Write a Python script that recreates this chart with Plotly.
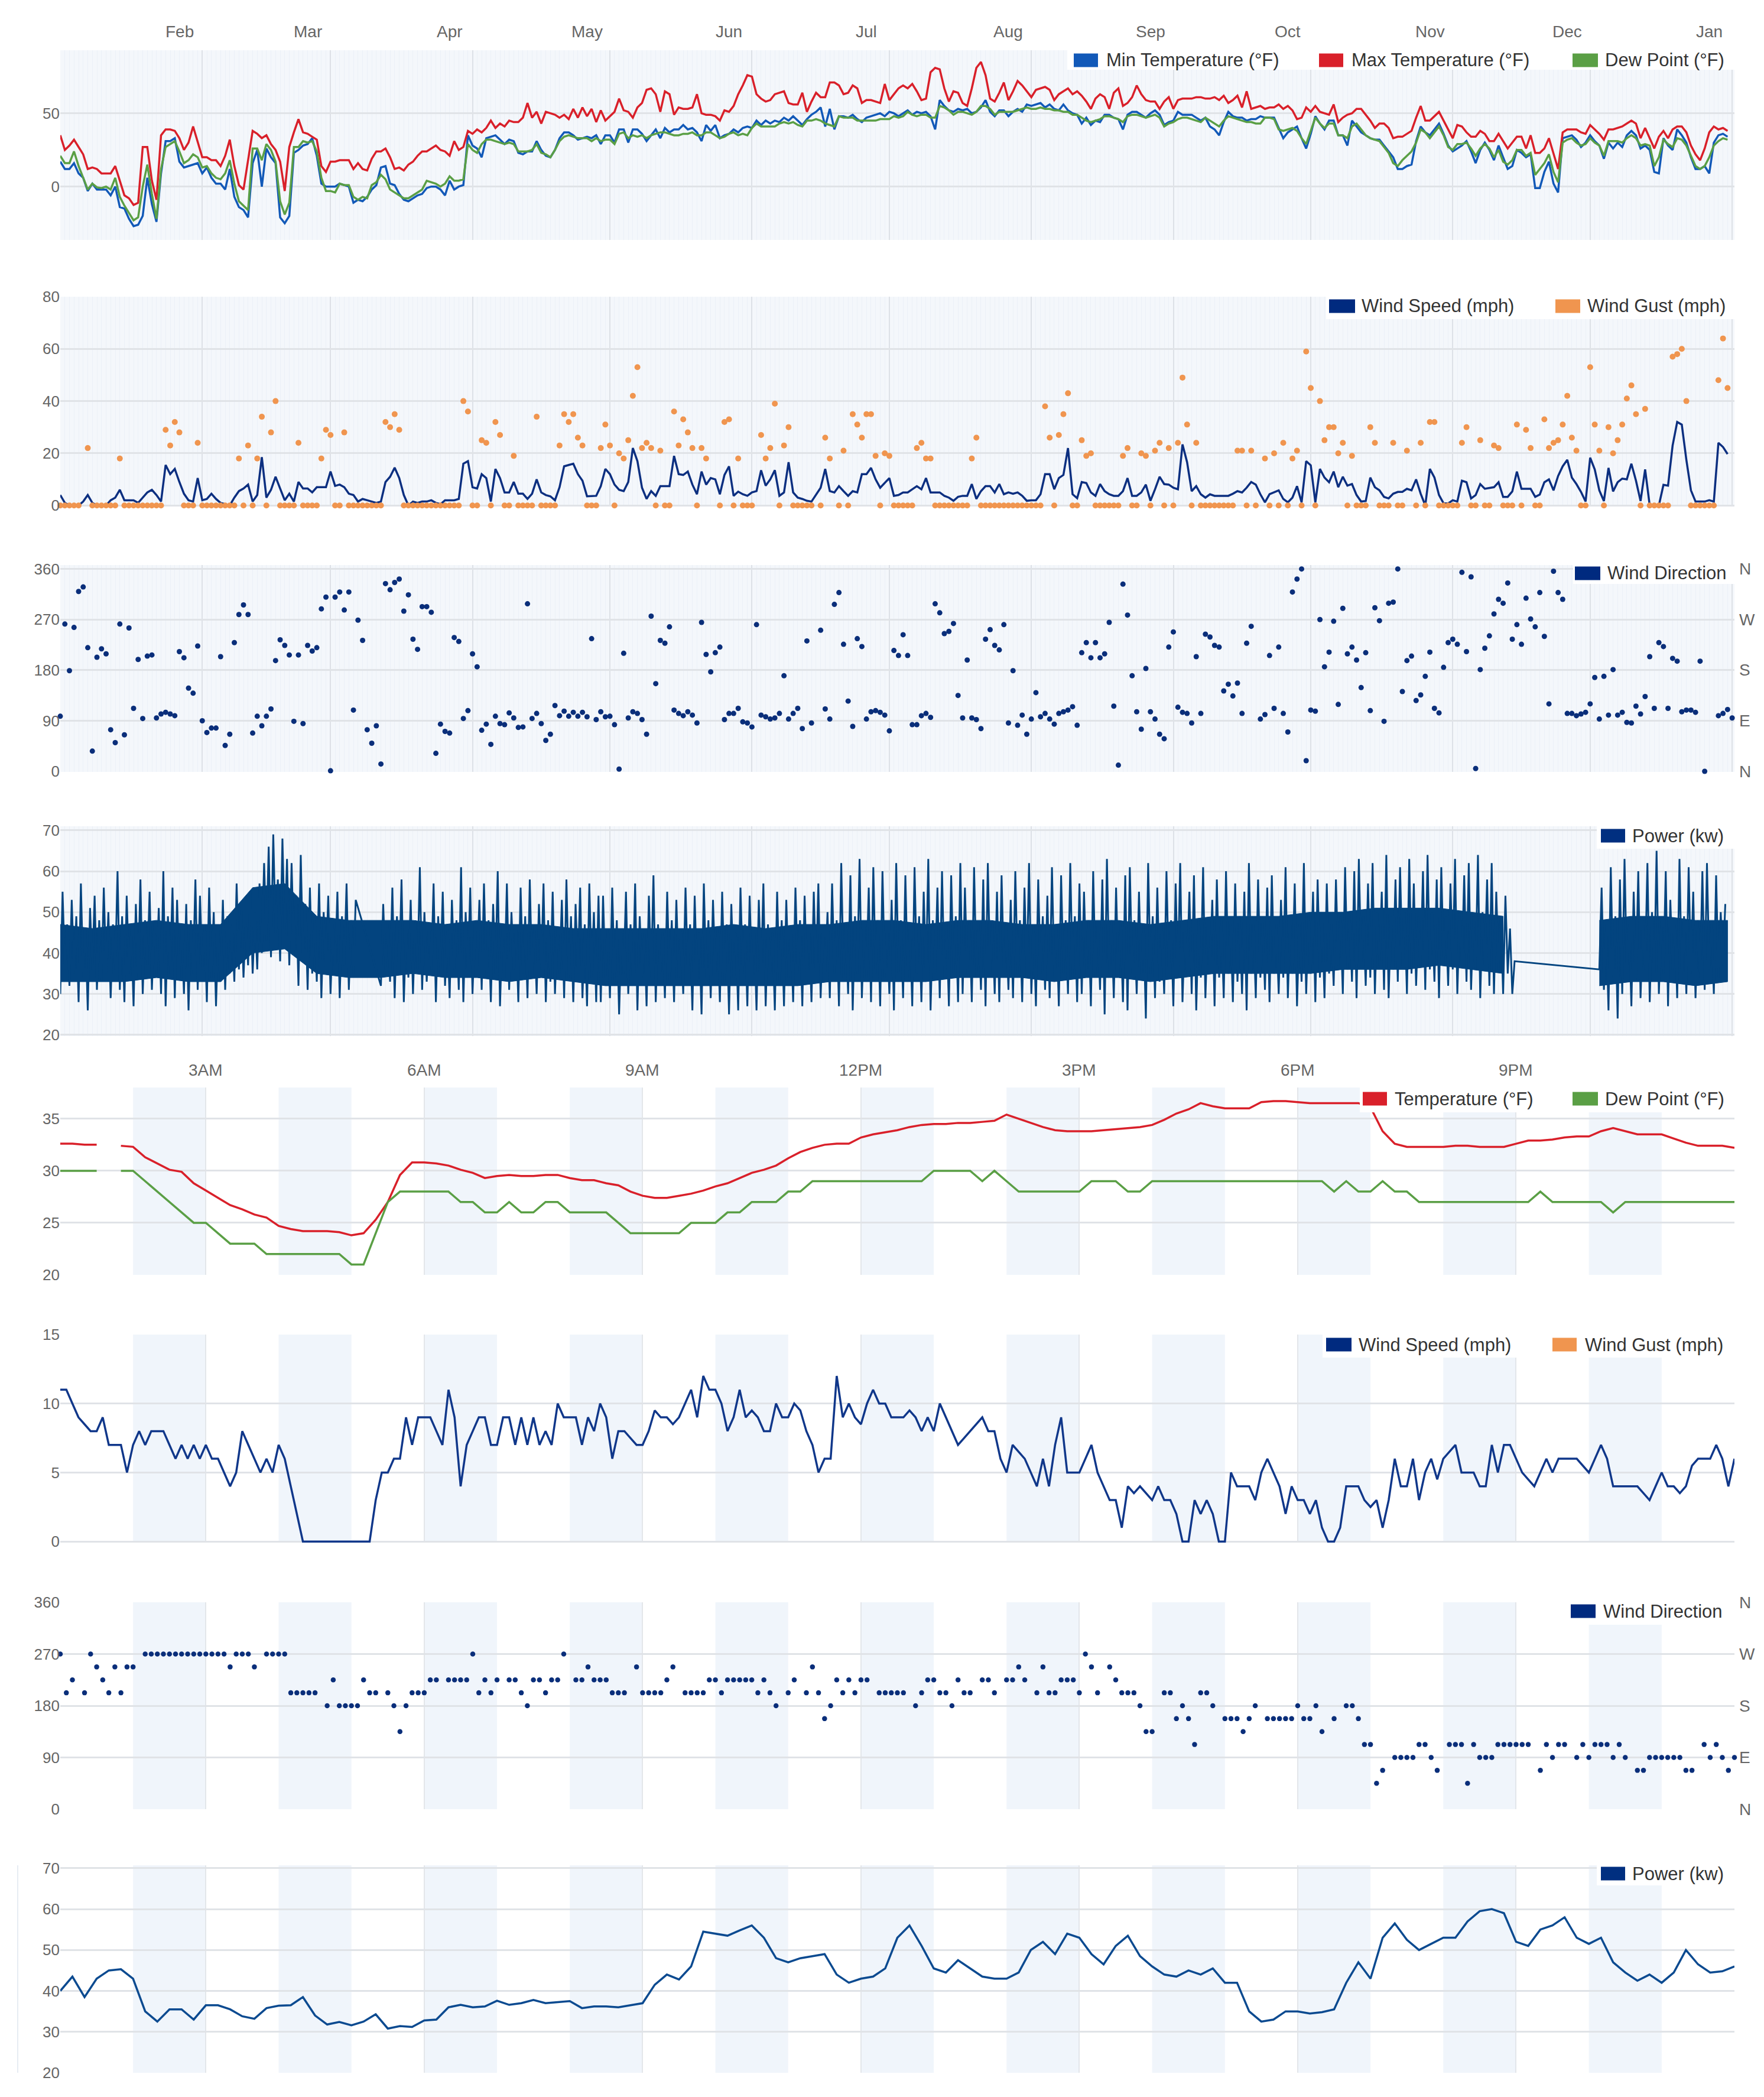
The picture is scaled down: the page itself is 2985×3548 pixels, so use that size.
import pandas as pd
import plotly.graph_objects as go

W, H = 2985, 3548
OFF = 8            # page offset of the figure inside the browser page
L, R = 102, 2935
FONT = "Liberation Sans, Arial, Helvetica, sans-serif"
TICK_COLOR = "#666666"

C_MIN = "#1259b8"
C_MAX = "#d9202a"
C_DEW = "#5a9f45"
C_WS = "#0c2f80"
C_GUST = "#f0954f"
C_DIR = "#0a2e7a"
C_PWR = "#03447f"
C_DWS = "#10378a"
C_DPWR = "#0b4a90"

# ------------------------------------------------------------------
# Year panels: daily values starting Jan 1
# ------------------------------------------------------------------
max_temp_a = [35,25,28,32,27,22,12,13,12,9,
              9,9,14,4,-6,-8,-12.5,-11,27,27,
              4,-9,35,39,39,38,33,25,30,41,
              30,20,20,18,18,14,21,32,14,1,
              -2,17,38,36,33,35,29,25,17,-3,
              27,37,46,37,36,34,32,14,10,17,
              17,18,18,18,12,16,12,11,19,24,24,
              26,20,12,13,11,15,17,21,24,24,26,
              28,25,24,21,31,25,27,38,36,39,
              37,40,45,40,43,41,45,44,44,47,
              57,47,51,43,51,50,49,47,49,46,
              53,47,54,48]
max_temp_b = [53,44,52,45,48,51,60,52,51,47,
              54,57,66,67,63,51,65,63,49,54,
              53,53,54,63,50,49,49,48,45,52,
              51,55,63,69,76,75,63,60,58,59,
              63,64,65,57,56,56,64,51,58,64,
              61,61,71,71,69,63,64,69,67,57,
              59,59,58,57,70,59,63,67,69,67,
              70,65,59,60,78,81,80,67,58,65,
              64,57,55,67,81,85,76,60,58,64,
              71,59,65,72,69,65,61,66,67,68,
              66,59,63,65,67,63,65,62,58,53,
              60,63,61,53,64,67,55,57,61,69,
              63,59,58,58,53,58,61,53,59,60,
              60,60,61,61]
max_temp_c = [60,60,61,59,62,57,59,62,54,65,
              53,54,55,53,54,54,56,53,55,52,
              46,47,54,51,55,51,50,49,56,44,
              47,49,50,53,53,49,45,40,43,43,
              40,33,34,34,36,38,47,55,45,45,
              48,51,45,39,33,42,41,37,34,34,
              38,36,31,31,36,31,26,30,34,34,
              26,35,23,23,26,33,23,12,37,39,
              39,39,37,36,42,39,36,32,39,39,
              40,41,43,45,43,33,40,33,26,34,
              38,33,39,41,41,37,28,22,18,26,
              37,41,39,40,38]

min_temp_a = [17,12,12,16,9,6,-3,2,-2,-2,
              -2,-6,0,-14,-15,-22,-27,-26,-20,6,
              -12,-24,9,31,31,33,17,13,14,15,
              16,9,13,6,2,2,-2,12,-7,-14,
              -16,-21,16,25,0,26,20,16,-21,-25,
              -20,23,25,28,29,33,21,2,0,0,
              0,2,1,0,-11,-9,-10,-7,-2,1,13,
              14,2,1,-5,-9,-10,-8,-6,-5,-1,0,
              0,-2,-6,4,-2,0,1,35,28,26,
              20,33,34,35,32,29,32,31,23,22,
              24,24,31,25,21,20,25,33,37,37,
              35,32,33,34]
min_temp_b = [33,35,29,35,35,30,39,39,30,39,
              39,36,31,35,39,33,40,37,39,39,
              42,39,40,37,31,42,38,42,33,35,
              36,39,37,40,41,40,45,42,45,43,
              45,44,47,45,48,45,42,46,49,51,
              54,41,53,39,48,48,47,49,46,44,
              47,48,49,50,48,51,50,48,50,52,
              49,51,50,51,48,39,59,55,52,51,
              53,52,53,50,51,54,59,51,48,52,
              52,48,51,53,51,56,55,56,57,54,
              56,53,52,56,52,50,49,43,47,42,
              45,44,49,49,47,46,39,49,51,51,
              49,47,50,52,49,42,44,45,51,49,
              49,49,47,45]
min_temp_c = [47,41,39,35,44,51,48,47,47,45,
              46,46,48,47,47,47,40,33,37,39,
              41,33,26,36,48,43,39,45,45,35,
              35,28,45,41,37,35,33,32,32,28,
              24,20,12,12,14,15,31,41,37,35,
              39,43,36,28,24,26,28,31,24,16,
              25,30,25,18,28,20,12,14,25,23,
              20,22,-1,-1,10,17,2,-4,33,34,
              35,32,27,30,35,31,28,19,30,26,
              30,27,35,38,35,26,28,25,10,9,
              33,28,25,39,35,30,20,12,12,14,
              9,30,35,36,34]

dew_a = [21,16,16,24,14,6,-2,2,-0.5,-1,
         0,-2,6,-7,-13,-18,-23,-21,0,15,
         -5,-22,12,27,29,31,24,16,18,22,
         20,13,14,9,6,5,9,18,2,-10,
         -13,-16,26,26,18,29,25,17,-10,-19,
         -11,27,27,31,30,31,24,6,-3,-3,
         -4,2,1,1,-7,-9,-7,-8,1,3,8,
         5,-2,-4,-6,-8,-8,-6,-4,-2,4,3,
         2,0,2,7,4,4,5,29,25,23,
         29,32,32,31,30,29,30,29,24,24,
         24,25,29,23,22,20,25,31,34,35,
         34,33,33,33]
dew_b = [31,33,31,32,32,29,36,37,33,35,
         34,35,33,35,36,37,37,36,35,35,
         36,36,37,35,35,37,37,35,33,34,
         36,37,35,36,35,40,43,41,41,41,
         41,43,44,43,44,42,41,45,45,46,
         45,43,42,41,48,47,47,47,45,45,
         45,45,45,46,46,46,48,47,48,51,
         49,48,49,49,47,47,55,54,52,49,
         51,51,50,49,51,55,55,53,49,51,
         51,51,51,52,53,54,53,53,54,53,
         53,52,52,51,51,49,49,47,45,44,
         45,46,48,48,47,46,44,48,49,49,
         48,47,48,49,47,41,43,44,46,47,
         47,46,45,44]
dew_c = [47,45,43,41,45,48,47,46,45,44,
         44,43,43,47,47,46,39,38,39,40,
         38,33,29,38,47,43,40,43,43,35,
         35,33,41,43,39,35,33,32,31,27,
         23,16,14,18,21,24,30,39,37,33,
         37,41,35,27,25,29,29,30,26,21,
         26,29,26,20,25,17,15,18,25,25,
         21,23,8,12,16,22,10,3,30,32,
         33,30,28,29,33,30,28,21,31,31,
         31,30,33,35,33,28,29,28,14,20,
         32,29,27,33,32,28,21,14,12,14,
         20,28,31,33,32]

wind_a = [4,1,0,0,0,1.5,4,1,0,0,
          0,2,3,6,2,2,2,1,3,5,
          6,4,1.5,15.5,12,14,9,4.5,2,1.5,
          10.5,2,2.5,4.5,2.5,1,0.5,0,3,5.5,
          6.5,8,1.5,4,18.5,3,6,11,6.5,2,
          4.5,1.5,9,6.5,6.5,5,7,7,7,13,
          7.5,8,7,4.5,4,1.5,2.5,2,1.5,1,
          1.5,9,11,14.5,10.5,4,0,1.5,1,1.5,
          1.5,2,1,0.5,2,2,2,2.5,16,17,
          7,6.5,12,10.5,1.5,14,10.5,5,5,9,
          4.5,4.5,2.5,4.5,10,5,4,3.5,2,7,
          15,15.5,16,12,9.5,3.5]
wind_b = [3.7,3.7,7.4,14,12,8,6,5.5,9,22,
          17,6.8,2.5,5.5,3.7,7.4,7.4,7.4,19,12,
          11.7,13,8,4.3,13,8,10.5,10,4.3,11.7,
          15,3.7,5.3,4.3,3.7,5,5.5,13.5,7.6,10,
          13.5,3.7,5,16.6,5,3,2.5,1.8,1.5,4.3,
          6.8,14,5.5,5,7.4,5.5,3.7,5.5,5,12,
          12,14.4,10,6.8,8.6,10.5,3.7,4,5,5,
          6.2,7.4,6.2,10.5,5,5,5,3.7,3,1.8,
          3.3,3.7,3.7,8.2,2.5,5.5,7.4,7.4,5,8.2,
          4.3,5,4.5,5,3.7,1.8,2,2,4.3,12,
          12,6.2,10.5,11.7,22,4.3,2.8,9,8.6,5,
          3.7,8.2,5.5,4.3,3.7,3.7,5.5,10.5,3.7,3.7,
          5,8,1.8,6.2,11,8.2,8,6.8,6.2,23.4,
          16.6,5.5,7.4,4.3,3,4.3,3.7,3.7,3.7,3.7,
          4.5,5.5,5,6.8,9,8,4.3,1.2,4.3,5,
          5.8,2.5,1.2,3,7.4,1.2,17,15.4,1.2]
wind_c = [14,10.7,8.9,13,7,11,7.6,8.2,4,1.5,
          1.7,10.7,7,5.8,3.3,2.7,4.5,5.2,5.2,6.4,
          5.8,10,4.5,0,14,10.7,4,0.8,0.8,2,
          1.5,9.5,8.9,2.7,4,8.2,6.4,6.6,7,8.9,
          3.3,3.3,5.4,13,6.4,6.4,6.4,3.3,4.2,8.9,
          10,5.8,11.3,15,17.5,10.7,8.2,5.2,1.5,18.3,
          13.8,5.8,1.7,14.4,5.4,8.9,10.3,10,16,9.5,
          1.7,13.8,0,0,0,7.9,7.6,23,32,31,
          17.5,5.8,1.5,1.5,1.5,2,1.5,24,22.4,19.7]

gust_a = [0,0,0,0,0,None,22,0,0,0,
          0,0,0,18,0,0,0,0,0,0,
          0,0,0,29,23,32,28,0,0,0,
          24,0,0,0,0,0,0,0,0,18,
          0,23,0,18,34,0,28,40,0,0,
          0,0,24,0,0,0,0,18,29,27,
          0,0,28,0,0,0,0,0,0,0,
          0,32,30,35,29,0,0,0,0,0,
          0,0,0,0,0,0,0,0,40,36,
          0,0,25,24,0,32,27,0,0,19,
          0,0,0,0,34,0,0,0,0,23,
          35,32,35,26,23,0]
gust_b = [0,0,22,31,23,0,20,18,25,42,
          53,22,24,22,0,21,0,0,36,23,
          33,28,22,0,22,18,None,None,0,32,
          33,0,18,0,0,0,None,27,18,22,
          39,0,23,30,0,0,0,0,0,None,
          0,26,18,None,0,21,0,35,31,26,
          35,35,19,0,20,19,0,0,0,0,
          0,22,24,18,18,0,0,0,0,0,
          0,0,0,18,26,0,0,0,0,0,
          0,0,0,0,0,0,0,0,0,38,
          26,0,27,35,43,0,0,25,19,20,
          0,0,0,0,0,0,19,22,0,0,
          20,19,0,21,24,0,22,0,24,49,
          31,0,24,0,0,0,0,0,0,0,
          0,21,21,0,21,0,None,18,0,20,
          0,24,0,18,21,0,59,45,0]
gust_c = [40,25,30,30,20,24,0,19,0,0,
          0,30,24,0,0,0,24,0,0,21,
          None,0,24,0,32,32,0,0,0,0,
          0,24,30,0,0,25,0,0,23,22,
          0,0,0,31,0,29,22,0,0,33,
          22,24,25,31,42,26,21,0,0,53,
          31,21,0,30,20,25,31,41,46,35,
          0,37,0,0,0,0,0,57,58,60,
          40,0,0,0,0,0,0,48,64,45]

wdir_a = [98,262,179,256,320,328,220,36,203,218,
          209,74,51,262,65,255,112,199,94,205,
          207,95,102,105,102,99,213,202,148,139,
          223,90,69,77,77,204,46,66,229,279,
          296,279,68,98,81,98,111,197,234,224,
          207,89,207,85,224,214,220,289,310,1,
          310,319,287,319,109,269,233,74,50,81,
          13,334,323,336,342,285,314,235,217,293,
          293,283,32,84,71,68,238,231,94,108,
          209,186,73,84,48,98,85,83,104,95,
          78,79,298,94,103,85,55,66,117,99,
          107,98,105,98,105,97]
wdir_b = [236,92,106,97,98,83,4,210,95,106,
          103,92,66,276,156,233,228,257,109,103,
          99,106,100,86,265,208,177,211,221,92,
          103,103,112,88,86,79,261,100,97,93,
          95,103,170,93,103,112,76,232,86,None,251,
          111,93,297,318,226,125,80,236,222,93,
          106,108,105,100,72,215,206,243,206,83,
          83,99,103,96,298,282,245,249,263,135,
          95,198,95,92,76,235,252,224,216,261,
          86,179,82,100,66,93,140,97,103,93,
          84,103,106,109,115,82,211,229,202,229,
          202,209,265,116,11,333,278,170,106,75,
          183,106,93,66,58,221,248,114,105,103,
          86,204,103,244,239,224,221,143,155,134,
          157,103,228,258,None,93,101,206,112,221,103,
          70,319,342,360,19,109,107,270,186]
wdir_c = [212,267,119,290,209,221,198,149,211,108,
          291,268,89,299,301,360,142,197,205,126,
          136,169,212,112,104,185,229,235,226,354,
          213,346,5,181,219,241,280,306,299,335,
          235,261,226,308,271,257,318,240,120,356,
          318,306,103,103,99,102,105,120,167,93,
          169,100,181,100,105,87,86,116,102,133,
          204,112,229,222,112,201,196,106,109,109,
          105,196,0,None,None,99,103,110,95]

# daily power swings (low / high of each day), None = no data
power_lo_a = [30,36,32,35,28,34,26,36,31,33, 35,29,36,31,28,35,27,34,30,36,
              31,35,30,27,35,29,34,30,26,35, 31,36,28,34,27,33,31,35,33,36,
              34,37,35,36,40,43,39,45,38,44, 37,40,32,38,31,35,33,29,36,30,
              35,29,37,31,35]
power_hi_a = [55,47,53,49,57,46,51,54,48,56, 50,47,60,49,54,46,52,58,48,55,
              47,51,60,49,56,53,46,52,48,58, 54,47,56,50,46,53,49,47,57,52,
              48,55,50,57,62,66,69,58,68,63, 62,54,64,52,56,48,57,50,54,47,
              55,49,57,48,53]
power_gap_1 = [None, None, None, None, None]
power_lo_b = [32,36,33,29,35,28,34,30,36,31, 33,36,28,35,32,29,36,31,28,35,
              30,36,31,34,28,35,27,34,31,36, 28,35,29,34,30,36,28,33,30,35,
              29,34,28,35,29,27,34,28,
              28,34,29,33,25,35,30,33,26,34, 27,34,28,35,29,33,28,34,30,35,
              26,33,25,34,29,35,28,33,25,34, 26,35,27,33,26,34,27,35,26,33,
              27,34,28,35,27,33,28,34,29,35,
              29,35,27,34,30,26,35,29,34,28, 35,27,34,30,26,35,29,34,27,35,
              28,34,26,35,29,34,27,35,28,
              30,35,28,34,31,27,35,30,28,35, 31,29,35,28,34,30,27,35,31,29,
              34,27,35,30,34,28,
              30,35,27,34,31,25,35,29,34,28, 26,35,30,34,24,35,29,33,30,35,
              27,34,28,35,30,26,34,29,35,27, 34,29,35,28,33,30,26,35,29,34,
              31,28,35,30,34,29,35,27,33,30, 35,28,34,29,35,
              32,37,30,36,33,29,37,32,34,30, 37,31,29,36,33,37,30,35,32,37,
              31,36,33,29,37,32,36,30,37,33, 31,36,29,37,32,
              30,36,30,35,30]
power_hi_b = [52,47,56,49,58,46,53,48,61,50, 47,57,49,55,46,53,48,61,50,56,
              47,53,57,48,52,60,46,57,50,47, 56,49,58,47,52,57,48,55,46,53,
              58,49,52,56,47,57,50,54,
              54,46,56,48,45,55,47,57,49,46, 54,59,47,45,55,48,53,46,56,47,
              54,45,57,48,53,46,55,47,52,45, 56,47,54,46,53,57,47,45,55,48,
              53,46,56,48,54,46,55,57,47,50,
              57,48,62,47,59,49,63,47,56,61, 48,60,47,53,62,48,59,47,61,49,
              55,63,48,56,60,47,59,49,62,
              56,48,61,47,58,62,48,55,59,47, 53,60,48,56,62,47,58,49,54,61,
              47,59,48,62,49,57,
              55,48,60,47,58,63,48,56,47,59, 61,48,55,47,62,49,56,47,60,48,
              57,62,47,55,59,48,61,47,53,58, 48,60,47,57,49,55,62,47,58,48,
              56,59,47,53,61,48,57,47,62,49, 55,58,48,57,47,
              58,49,61,50,60,63,49,57,62,50, 55,64,49,58,61,50,63,57,49,60,
              64,50,58,61,49,57,63,50,59,62, 49,64,50,58,62,
              55,49,54,46,38]
power_gap_2 = [None, None, None, None, None, None, None, None, None,
               None, None, None, None, None, None, None, None, None]
power_lo_c = [36,31,26,34,24,30,35,27,33,29, 36,28,34,30,35,27,36,29,33,30,
              35,29,34,31,36,30,34,37]
power_hi_c = [56,47,61,49,58,63,47,55,60,48, 62,50,65,48,60,53,47,63,49,61,
              55,48,60,62,47,59,50,52]

# dense core of the power trace, one value per week (None = no data)
power_core_lo = [33,33,33,34,33,33,40,41,35,34,
                 34,35,34,34,33,34,33,32,32,32,
                 32,32,32,32,33,33,33,33,34,34,
                 34,33,34,34,33,34,35,35,35,35,
                 36,36,36,37,36,35,None,None,
                 32,33,33,32,33]
power_core_hi = [47,46,47,48,47,47,56,57,49,48,
                 48,48,47,48,47,47,46,46,46,46,
                 46,47,46,47,47,48,48,47,48,48,
                 47,47,48,48,47,48,49,49,49,50,
                 50,51,51,51,50,49,None,None,
                 48,49,49,48,48]

# ------------------------------------------------------------------
# Day panels (from 1:00)
# ------------------------------------------------------------------
day_temp = [32.6,32.6,32.5,32.5,None,32.4,
            32.3,31.3,30.7,30.1,29.9,28.8,
            28.1,27.4,26.7,26.3,25.8,25.5,
            24.7,24.4,24.2,24.2,24.2,24.1,
            23.8,24.0,25.3,27.0,29.6,30.8,
            30.8,30.7,30.5,30.1,29.8,29.3,
            29.5,29.6,29.5,29.5,29.6,29.6,
            29.3,29.1,29.1,
            28.8,28.6,28.0,
            27.6,27.4,27.4,27.6,27.8,28.1,
            28.5,28.8,29.3,29.8,30.1,30.5,
            31.2,31.8,32.2,32.5,32.6,32.6,
            33.2,33.5,33.7,33.9,34.2,34.4,
            34.5,34.5,34.6,34.6,34.7,34.8,
            35.4,35.0,34.6,34.2,33.9,33.8,
            33.8,33.8,33.9,34.0,34.1,34.2,
            34.4,34.9,35.5,35.9,36.5,36.2,
            36.0,36.0,36.0,36.6,36.7,36.7,
            36.6,36.5,36.5,36.5,36.5,36.5,
            36.1,33.8,32.6,32.3,32.3,32.3,
            32.3,32.4,32.4,32.3,32.3,32.3,
            32.6,32.9,32.9,33.0,33.2,33.3,
            33.3,33.8,34.1,33.8,33.5,33.5,
            33.5,33.1,32.7,32.4,32.4,32.4,
            32.2]
day_dew = [30,30,30,30,None,30,
           30,29,28,27,26,25,
           25,24,23,23,23,22,
           22,22,22,22,22,22,
           21,21,24,27,28,28,
           28,28,28,27,27,26,
           26,27,26,26,27,27,
           26,26,26,
           26,25,24,
           24,24,24,24,25,25,
           25,26,26,27,27,27,
           28,28,29,29,29,29,
           29,29,29,29,29,29,
           30,30,30,30,29,30,
           29,28,28,28,28,28,
           28,29,29,29,28,28,
           29,29,29,29,29,29,
           29,29,29,29,29,29,
           29,29,29,28,29,28,
           28,29,28,28,27,27,
           27,27,27,27,27,27,
           27,27,28,27,27,27,
           27,27,26,27,27,27,
           27,27,27,27,27,27,
           27]

day_wind = [11,11,10,9,8.5,8,8,9,7,7,7,5,
            7,8,7,8,8,8,7,6,7,6,7,6,
            7,6,6,5,4,5,8,7,6,5,6,5,
            7,6,4,2,0,0,0,0,0,0,0,0,
            0,0,0,0,3,5,5,6,6,9,7,9,
            9,9,8,7,11,9,4,7,8,9,9,7,
            7,9,9,7,9,7,9,7,8,7,10,9,
            9,9,7,9,
            8,10,9,6,8,8,7.5,7,7,8,
            9.5,9,9,8.5,9,10,11,9,12,11,
            11,10,8,9,11,9,9.5,9,8,8,
            10,9,9,10,9.5,8,7,5,6,6,
            12,9,10,9,8.5,10,11,10,10,9,
            9,9,9.5,9,8,9,8,10,9,8,
            7,7.5,8,8.5,9,8,8,6,5,7,
            6.5,6,5,4,6,4,7,9,5,5,
            5,6,7,5,4,3,3,1,4,3.5,
            4,3.5,3,4,3,3,2,0,0,3,
            2,3,2,0,0,5,4,4,4,3,
            5,6,5,4,2,4,3,3,2,3,
            1,0,0,1,4,4,4,3,2.5,3,
            1,3,6,4,4,6,3,5,6,4.5,
            6,6.5,7,5,5,5,4,4,7,5,
            7,7,6,5,4.5,4,5,6,5,6,
            6,6,6,5.5,5,6,7,6,4,4,
            4,4,4,3.5,3,4,5,4,4,3.5,
            4,5.5,6,6,6,7,6,4,6]

day_dir = [270,202.5,225,None,202.5,270,247.5,225,202.5,247.5,
           202.5,247.5,247.5,None,270,270,270,270,270,270,
           270,270,270,270,270,270,270,270,247.5,270,
           270,270,247.5,None,270,270,270,270,202.5,202.5,
           202.5,202.5,202.5,None,180,225,180,180,180,180,
           225,202.5,202.5,None,202.5,180,135,180,202.5,202.5,
           202.5,225,225,None,225,225,225,225,270,202.5,
           225,202.5,225,None,225,225,202.5,180,225,225,
           202.5,225,225,270,None,225,225,247.5,
           225,225,225,202.5,202.5,202.5,None,247.5,202.5,202.5,
           202.5,202.5,225,247.5,None,202.5,202.5,202.5,202.5,225,
           225,202.5,225,225,225,225,225,202.5,225,202.5,
           180,None,202.5,225,None,202.5,247.5,202.5,157.5,180,
           225,202.5,225,202.5,225,225,None,202.5,202.5,202.5,
           202.5,202.5,None,180,202.5,225,225,202.5,202.5,180,
           225,202.5,202.5,None,225,225,202.5,None,225,225,
           247.5,225,None,202.5,247.5,202.5,202.5,225,225,225,
           202.5,270,247.5,202.5,None,247.5,225,202.5,202.5,202.5,
           180,135,135,None,202.5,202.5,157.5,180,157.5,112.5,
           202.5,202.5,180,None,157.5,157.5,157.5,135,157.5,180,
           None,157.5,157.5,157.5,157.5,157.5,180,157.5,157.5,180,
           135,None,157.5,None,180,180,157.5,112.5,112.5,45,
           67.5,None,90,90,90,90,112.5,112.5,90,67.5,
           None,112.5,112.5,112.5,45,112.5,90,90,90,112.5,
           112.5,112.5,112.5,112.5,112.5,None,67.5,112.5,90,112.5,
           112.5,None,90,112.5,90,112.5,112.5,112.5,90,112.5,
           90,None,67.5,67.5,90,90,90,90,90,90,
           67.5,67.5,None,112.5,90,112.5,90,67.5,90]

day_power = [40.0,43.5,38.5,43.0,45.0,45.3,
             43.0,35.0,32.5,35.5,35.5,33.0,
             36.5,36.5,35.5,33.8,33.2,35.8,
             36.4,36.5,38.5,34.0,31.8,32.4,
             31.6,32.5,34.3,30.8,31.4,31.2,
             32.8,33.0,36.0,36.6,36.0,36.2,
             37.6,36.6,37.0,37.8,37.0,37.3,
             37.5,35.8,36.2,
             36.2,36.0,36.5,
             37.0,41.5,44.0,42.8,46.0,54.5,
             54.0,53.5,54.8,56.0,53.0,48.0,
             47.0,48.0,48.5,49.0,44.0,42.0,
             43.0,43.5,45.5,53.0,56.0,51.0,
             45.5,44.5,47.5,45.5,43.5,43.0,
             43.0,44.5,50.0,52.0,49.0,54.0,
             53.0,49.0,46.5,51.0,53.5,48.5,
             46.0,44.0,43.5,45.0,44.0,45.5,
             42.0,42.0,35.0,32.5,33.0,35.0,
             35.0,34.5,34.8,35.5,42.0,47.0,
             43.0,53.0,56.5,52.5,50.0,51.5,
             53.0,53.0,57.0,59.5,60.0,59.0,
             52.0,51.0,55.0,56.0,58.0,53.0,
             51.5,53.0,47.0,44.5,42.5,44.0,
             42.0,44.5,50.0,46.5,44.5,44.8,
             46.0]

hour_ticks = [3, 6, 9, 12, 15, 18, 21]
hour_labels = ["3AM", "6AM", "9AM", "12PM", "3PM", "6PM", "9PM"]
compass_vals = [0, 90, 180, 270, 360]
compass_text = ["N", "E", "S", "W", "N"]
band_start_hours = [2, 4, 6, 8, 10, 12, 14, 16, 18, 20, 22]

# ------------------------------------------------------------------
YEAR0 = pd.Timestamp("2018-01-01")
DAY0 = pd.Timestamp("2018-12-24")


def fx(px):
    return (px - OFF) / W


def fy(py):
    return 1 - (py - OFF) / H


def ydates(n):
    return [YEAR0 + pd.Timedelta(days=i) for i in range(n)]


def dtimes(n, step_min):
    return [DAY0 + pd.Timedelta(hours=1) + pd.Timedelta(minutes=step_min * i) for i in range(n)]


max_temp = max_temp_a + max_temp_b + max_temp_c
min_temp = min_temp_a + min_temp_b + min_temp_c
dew_temp = dew_a + dew_b + dew_c
wind = wind_a + wind_b + wind_c
gust = gust_a + gust_b + gust_c
wdir = wdir_a + wdir_b + wdir_c
power_lo = power_lo_a + power_gap_1 + power_lo_b + power_gap_2 + power_lo_c
power_hi = power_hi_a + power_gap_1 + power_hi_b + power_gap_2 + power_hi_c

pw_x, pw_y = [], []
for i, (lo, hi) in enumerate(zip(power_lo, power_hi)):
    d = YEAR0 + pd.Timedelta(days=i)
    pw_x += [d, d + pd.Timedelta(hours=12)]
    pw_y += [lo, hi]

core_x, core_y = [], []
run = []
for k, (lo, hi) in enumerate(zip(power_core_lo + [None], power_core_hi + [None])):
    if lo is None:
        if run:
            xs = [YEAR0 + pd.Timedelta(days=7 * j) for j, _, _ in run]
            core_x += xs + xs[::-1] + [None]
            core_y += [h for _, _, h in run] + [l for _, l, _ in run][::-1] + [None]
            run = []
    else:
        run.append((k, lo, hi))

fig = go.Figure()

fig.add_trace(go.Scatter(x=ydates(len(min_temp)), y=min_temp, mode="lines",
                         line=dict(color=C_MIN, width=3.5), xaxis="x", yaxis="y", name="Min Temperature (°F)"))
fig.add_trace(go.Scatter(x=ydates(len(max_temp)), y=max_temp, mode="lines",
                         line=dict(color=C_MAX, width=3.5), xaxis="x", yaxis="y", name="Max Temperature (°F)"))
fig.add_trace(go.Scatter(x=ydates(len(dew_temp)), y=dew_temp, mode="lines",
                         line=dict(color=C_DEW, width=3.5), xaxis="x", yaxis="y", name="Dew Point (°F)"))
fig.add_trace(go.Scatter(x=ydates(len(wind)), y=wind, mode="lines",
                         line=dict(color=C_WS, width=3.5), xaxis="x2", yaxis="y2", name="Wind Speed (mph)"))
fig.add_trace(go.Scatter(x=ydates(len(gust)), y=gust, mode="markers", cliponaxis=False,
                         marker=dict(color=C_GUST, size=10), xaxis="x2", yaxis="y2", name="Wind Gust (mph)"))
fig.add_trace(go.Scatter(x=ydates(len(wdir)), y=wdir, mode="markers", cliponaxis=False,
                         marker=dict(color=C_DIR, size=9), xaxis="x3", yaxis="y3", name="Wind Direction"))
fig.add_trace(go.Scatter(x=core_x, y=core_y, mode="lines", fill="toself", fillcolor=C_PWR,
                         line=dict(color=C_PWR, width=1), xaxis="x4", yaxis="y4", name="Power core"))
fig.add_trace(go.Scatter(x=pw_x, y=pw_y, mode="lines", connectgaps=True,
                         line=dict(color=C_PWR, width=3.0), xaxis="x4", yaxis="y4", name="Power (kw)"))
fig.add_trace(go.Scatter(x=dtimes(len(day_temp), 10), y=day_temp, mode="lines",
                         line=dict(color=C_MAX, width=3.5), xaxis="x5", yaxis="y5", name="Temperature (°F)"))
fig.add_trace(go.Scatter(x=dtimes(len(day_dew), 10), y=day_dew, mode="lines",
                         line=dict(color=C_DEW, width=3.5), xaxis="x5", yaxis="y5", name="Dew Point (°F)"))
fig.add_trace(go.Scatter(x=dtimes(len(day_wind), 5), y=day_wind, mode="lines",
                         line=dict(color=C_DWS, width=3.5), xaxis="x6", yaxis="y6", name="Wind Speed (mph)"))
fig.add_trace(go.Scatter(x=dtimes(len(day_dir), 5), y=day_dir, mode="markers", cliponaxis=False,
                         marker=dict(color=C_DIR, size=8.5), xaxis="x7", yaxis="y7", name="Wind Direction"))
fig.add_trace(go.Scatter(x=dtimes(len(day_power), 10), y=day_power, mode="lines",
                         line=dict(color=C_DPWR, width=3.5), xaxis="x8", yaxis="y8", name="Power (kw)"))

# ------------------------------------------------------------------
PANELS = [(85, 406), (502, 857), (956, 1306), (1398, 1753),
          (1840, 2157), (2258, 2610), (2711, 3061), (3156, 3507)]
YRANGES = [[-36.4, 93], [-0.4, 80], [-1, 367], [19.7, 71],
           [20, 38], [-0.08, 15], [0, 360], [20, 70.7]]
YTICKS = [[0, 50], [0, 20, 40, 60, 80], compass_vals, [20, 30, 40, 50, 60, 70],
          [20, 25, 30, 35], [0, 5, 10, 15], compass_vals, [20, 30, 40, 50, 60, 70]]

month_starts = list(pd.date_range("2018-01-01", "2019-01-01", freq="MS"))
hour_grid = [DAY0 + pd.Timedelta(hours=h) for h in [3, 6, 9, 12, 15, 18, 21, 24]]
year_range = [YEAR0, YEAR0 + pd.Timedelta(hours=365 * 24 + 12)]
day_range = [DAY0 + pd.Timedelta(hours=1), DAY0 + pd.Timedelta(hours=24)]

layout = dict(width=W, height=H, margin=dict(l=0, r=0, t=0, b=0, pad=0, autoexpand=False),
              autosize=False, paper_bgcolor="white", plot_bgcolor="white", showlegend=False,
              font=dict(family=FONT, size=26, color=TICK_COLOR), hovermode=False)

for i in range(8):
    n = i + 1
    xs = "" if n == 1 else str(n)
    top, bot = PANELS[i]
    xa = dict(domain=[fx(L), fx(R)], anchor="y" + xs, type="date", automargin=False,
              showticklabels=False, ticks="", zeroline=False, showline=False,
              showgrid=True, gridwidth=2)
    if i < 4:
        xa.update(range=year_range, tickmode="array", tickvals=month_starts,
                  gridcolor="#dde1e7",
                  minor=dict(tickmode="linear", tick0="2018-01-01", dtick=86400000,
                             showgrid=True, gridcolor="#ebf0f7", gridwidth=1, ticks=""))
    else:
        xa.update(range=day_range, tickmode="array", tickvals=hour_grid, gridcolor="#e3e6ea")
    ya = dict(domain=[fy(bot), fy(top)], anchor="x" + xs, range=YRANGES[i], automargin=False,
              tickmode="array", tickvals=YTICKS[i], showgrid=True, gridcolor="#e0e3e7",
              gridwidth=2.5, zeroline=False, showline=False, ticks="",
              tickfont=dict(family=FONT, size=26, color=TICK_COLOR))
    if i in (2, 6):
        ya["ticksuffix"] = "°"
    layout["xaxis" + xs] = xa
    layout["yaxis" + xs] = ya

shapes = []
annotations = []

for n in range(1, 5):
    xs = "" if n == 1 else str(n)
    shapes.append(dict(type="rect", xref="x" + xs + " domain", yref="y" + xs + " domain",
                       x0=0, x1=1, y0=0, y1=1, layer="below",
                       fillcolor="#f4f7fb", line=dict(width=0)))
for n in range(5, 9):
    for h in band_start_hours:
        shapes.append(dict(type="rect", xref="x%d" % n, yref="y%d domain" % n,
                           x0=DAY0 + pd.Timedelta(hours=h), x1=DAY0 + pd.Timedelta(hours=h + 1),
                           y0=0, y1=1, layer="below", fillcolor="#f0f5fb", line=dict(width=0)))
shapes.append(dict(type="line", xref="paper", yref="paper", x0=fx(30), x1=fx(30),
                   y0=fy(3507), y1=fy(3156), line=dict(color="#e6ecf3", width=2)))

for ms in month_starts[1:]:
    annotations.append(dict(x=ms - pd.Timedelta(days=5), y=fy(53), xref="x", yref="paper",
                            text=ms.strftime("%b"), showarrow=False, xanchor="center", yanchor="middle",
                            font=dict(family=FONT, size=28, color=TICK_COLOR)))
for h, lab in zip(hour_ticks, hour_labels):
    annotations.append(dict(x=DAY0 + pd.Timedelta(hours=h), y=fy(1810), xref="x5", yref="paper",
                            text=lab, showarrow=False, xanchor="center", yanchor="middle",
                            font=dict(family=FONT, size=28, color=TICK_COLOR)))
for yname in ("y3", "y7"):
    for v, t in zip(compass_vals, compass_text):
        annotations.append(dict(x=fx(R + 6), y=v, xref="paper", yref=yname, text=t,
                                showarrow=False, xanchor="left", yanchor="middle",
                                font=dict(family=FONT, size=28, color=TICK_COLOR)))

LEGENDS = [
    (1806, 2935, 85, 118, 102, [(1817, 1858, 1870, "Min Temperature (°F)", C_MIN),
                                (2232, 2273, 2285, "Max Temperature (°F)", C_MAX),
                                (2661, 2704, 2714, "Dew Point (°F)", C_DEW)]),
    (2244, 2937, 502, 540, 518, [(2249, 2293, 2302, "Wind Speed (mph)", "#002a7f"),
                                 (2632, 2674, 2684, "Wind Gust (mph)", C_GUST)]),
    (2662, 2935, 956, 988, 970, [(2665, 2708, 2718, "Wind Direction", "#002a7f")]),
    (2702, 2935, 1397, 1436, 1414, [(2709, 2750, 2760, "Power (kw)", "#002f80")]),
    (2301, 2932, 1840, 1882, 1859, [(2306, 2347, 2358, "Temperature (°F)", C_MAX),
                                    (2661, 2704, 2714, "Dew Point (°F)", C_DEW)]),
    (2238, 2930, 2258, 2297, 2275, [(2244, 2287, 2297, "Wind Speed (mph)", "#002a7f"),
                                    (2627, 2668, 2680, "Wind Gust (mph)", C_GUST)]),
    (2645, 2930, 2710, 2749, 2726, [(2658, 2700, 2711, "Wind Direction", "#002a7f")]),
    (2702, 2935, 3156, 3190, 3170, [(2709, 2750, 2760, "Power (kw)", "#002f80")]),
]
for bx0, bx1, by0, by1, yc, items in LEGENDS:
    shapes.append(dict(type="rect", xref="paper", yref="paper", x0=fx(bx0), x1=fx(bx1),
                       y0=fy(by1), y1=fy(by0), layer="above",
                       fillcolor="white", line=dict(width=0)))
    for rx0, rx1, tx, label, col in items:
        shapes.append(dict(type="rect", xref="paper", yref="paper", x0=fx(rx0), x1=fx(rx1),
                           y0=fy(yc + 11.5), y1=fy(yc - 11.5), layer="above",
                           fillcolor=col, line=dict(width=0)))
        annotations.append(dict(x=fx(tx), y=fy(yc), xref="paper", yref="paper", text=label,
                                showarrow=False, xanchor="left", yanchor="middle",
                                font=dict(family=FONT, size=31, color="#333333")))

layout["shapes"] = shapes
layout["annotations"] = annotations
fig.update_layout(**layout)
fig.write_html("out.html")
